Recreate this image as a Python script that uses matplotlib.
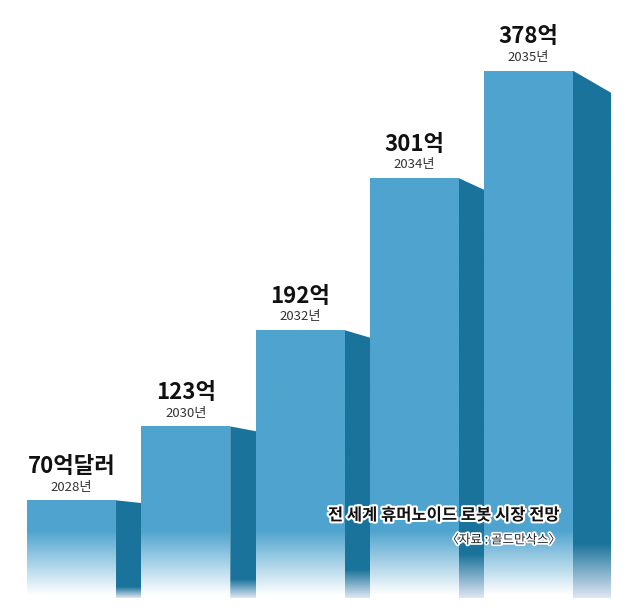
import numpy as np
import matplotlib.pyplot as plt
from matplotlib.patches import Polygon
import matplotlib.patheffects as pe

plt.rcParams['font.family'] = ['Noto Sans CJK KR', 'DejaVu Sans']

# ---------------- data ----------------
years = [2028, 2030, 2032, 2034, 2035]
values = [70, 123, 192, 301, 378]          # 억 달러
value_labels = ['70억달러', '123억', '192억', '301억', '378억']
year_labels = [f'{y}년' for y in years]
title = '전 세계 휴머노이드 로봇 시장 전망'
source = '〈자료 : 골드만삭스〉'

# ---------------- style ----------------
FRONT = np.array([79, 164, 207]) / 255
SIDE = np.array([26, 115, 155]) / 255
WHITE = np.array([1.0, 1.0, 1.0])
SIDE_END = np.array([0.87, 0.90, 0.95])
NARROW = ['Liberation Sans Narrow', 'Noto Sans CJK KR', 'DejaVu Sans']

bw = 0.779      # front face width
sw = 0.333      # side depth

fig = plt.figure(figsize=(6.28, 6.14), dpi=100)
ax = fig.add_axes([0, 0, 1, 1])
ax.axis('off')


def grad_face(verts, y0, y1, c_top, c_bot, z):
    poly = Polygon(verts, closed=True, facecolor='none', edgecolor='none')
    ax.add_patch(poly)
    xs = [v[0] for v in verts]
    ys = [v[1] for v in verts]
    ymin, ymax = min(ys), max(ys)
    yy = np.linspace(ymax, ymin, 400)
    t = np.clip((yy - y1) / (y0 - y1), 0, 1)[:, None]
    rgb = c_bot + (c_top - c_bot) * t
    img = np.repeat(rgb[:, None, :], 2, axis=1)
    im = ax.imshow(img, extent=(min(xs), max(xs), ymin, ymax),
                   aspect='auto', zorder=z, interpolation='bilinear')
    im.set_clip_path(poly)


for i, v in enumerate(values):
    xl = i - bw / 2
    xr = i + bw / 2
    drop = 0.0418 * v
    # side face
    grad_face([(xr, 0), (xr, v), (xr + sw, v - drop), (xr + sw, 0)],
              0.1 * v + 1, 0, SIDE, SIDE_END, 2 * i + 1)
    # front face
    grad_face([(xl, 0), (xl, v), (xr, v), (xr, 0)],
              48, 2, FRONT, WHITE, 2 * i + 2)

    ax.annotate(value_labels[i], (i, v), xytext=(0, 24.5),
                textcoords='offset points', ha='center', va='center',
                fontsize=16, fontweight='bold', color='#111111', zorder=20,
                family=NARROW)
    ax.annotate(year_labels[i], (i, v), xytext=(0, 9.5),
                textcoords='offset points', ha='center', va='center',
                fontsize=9.5, color='#333333', zorder=20, family=NARROW)

ax.text(0.892, 0.161, title, transform=ax.transAxes, ha='right', va='center',
        fontsize=11.9, fontweight='bold', color='#111111', zorder=30,
        path_effects=[pe.withStroke(linewidth=3, foreground='white')])
ax.text(0.893, 0.1205, source, transform=ax.transAxes, ha='right', va='center',
        fontsize=9, color='#222222', zorder=30,
        path_effects=[pe.withStroke(linewidth=2.5, foreground='white')])

ax.set_xlim(-0.626, 4.871)
ax.set_ylim(-11.5, 428.7)

fig.savefig('out.png', dpi=100)
